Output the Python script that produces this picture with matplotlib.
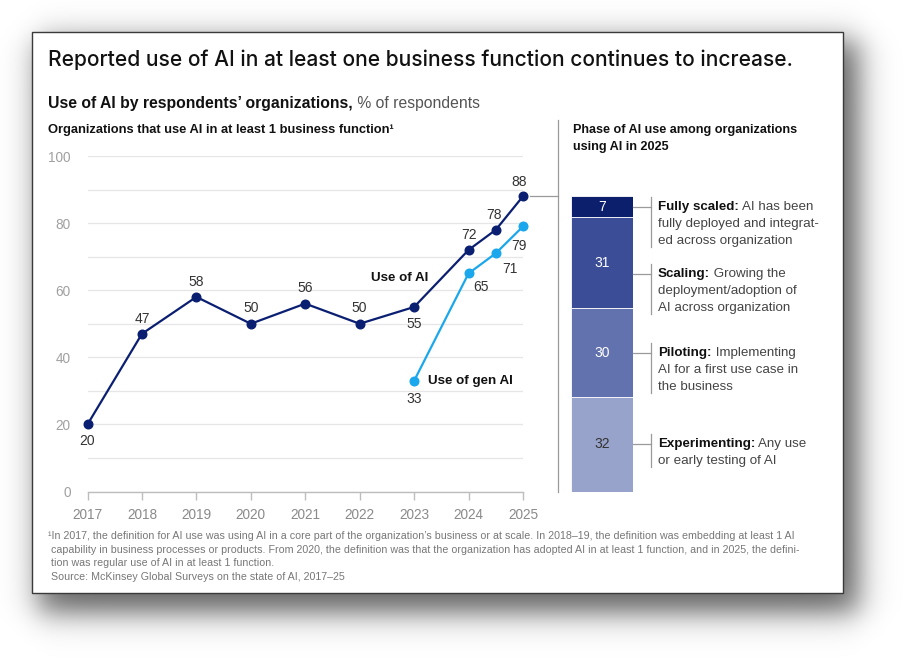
import numpy as np
import matplotlib
matplotlib.use("Agg")
import matplotlib.pyplot as plt
from matplotlib.patches import Rectangle
from matplotlib.lines import Line2D
from matplotlib.transforms import blended_transform_factory

# ---------------- data ----------------
years_ai = [2017, 2018, 2019, 2020, 2021, 2022, 2023, 2024, 2024.5, 2025]
use_ai = [20, 47, 58, 50, 56, 50, 55, 72, 78, 88]
years_gen = [2023, 2024, 2024.5, 2025]
use_gen = [33, 65, 71, 79]
tick_years = [2017, 2018, 2019, 2020, 2021, 2022, 2023, 2024, 2025]
y_ticks = [0, 20, 40, 60, 80, 100]

phases = ["Experimenting", "Piloting", "Scaling", "Fully scaled"]
phase_vals = [32, 30, 31, 7]
phase_desc = [
    ["Any use", "or early testing of AI"],
    ["Implementing", "AI for a first use case in", "the business"],
    ["Growing the", "deployment/adoption of", "AI across organization"],
    ["AI has been", "fully deployed and integrat-", "ed across organization"],
]

title = "Reported use of AI in at least one business function continues to increase."
footnote = [
    "\u00b9In 2017, the definition for AI use was using AI in a core part of the organization\u2019s business or at scale. In 2018\u201319, the definition was embedding at least 1 AI",
    " capability in business processes or products. From 2020, the definition was that the organization has adopted AI in at least 1 function, and in 2025, the defini-",
    " tion was regular use of AI in at least 1 function.",
    " Source: McKinsey Global Surveys on the state of AI, 2017\u201325",
]

# ---------------- style ----------------
FONT = "Liberation Sans"
plt.rcParams["font.family"] = [FONT, "DejaVu Sans"]
NAVY = "#0b1f72"
LIGHT = "#1aa7ec"
seg_colors = ["#98a3cb", "#6272ae", "#3b4d96", "#0b1f6c"]
seg_text = ["#333333", "white", "white", "white"]

W, H = 909, 659
fig = plt.figure(figsize=(W / 100, H / 100), dpi=100)


def fx(px):
    return px / W


def fy(py):
    return 1 - py / H


# ---------------- shadow + card ----------------
ax_bg = fig.add_axes([0, 0, 1, 1])
ax_bg.set_axis_off()
yy, xx = np.mgrid[0:H, 0:W].astype(float)


def sig(v):
    return 1.0 / (1.0 + np.exp(-v))


s = 9.0
alpha = (sig((xx - 38) / s) * sig((858 - xx) / s) *
         sig((yy - 40) / s) * sig((612 - yy) / s)) * 0.62
img = np.zeros((H, W, 4))
img[..., 3] = alpha
ax_bg.imshow(img, extent=[0, 1, 0, 1], origin="upper", aspect="auto",
             interpolation="bilinear")
ax_bg.set_xlim(0, 1)
ax_bg.set_ylim(0, 1)
ax_bg.add_patch(Rectangle((fx(32), fy(593)), fx(843 - 32), (593 - 32) / H,
                          transform=fig.transFigure, facecolor="white",
                          edgecolor="#3a3a3a", lw=1.0, zorder=2))

renderer = fig.canvas.get_renderer()


def rich(x_px, y_px, parts, size, va="baseline"):
    x = fx(x_px)
    for txt, weight, color in parts:
        t = fig.text(x, fy(y_px), txt, fontsize=size, fontweight=weight,
                     color=color, va=va, ha="left")
        bb = t.get_window_extent(renderer=renderer)
        x = bb.x1 / W
    return x


# ---------------- headings ----------------
fig.text(fx(48), fy(66), title, fontsize=15.1, color="#111111", va="baseline",
         family=["Inter", "Liberation Sans", "DejaVu Sans"], fontweight=500)
rich(48, 108, [("Use of AI by respondents\u2019 organizations,", "bold", "#111111"),
               (" % of respondents", "normal", "#555555")], 11.3)
fig.text(fx(48), fy(133), "Organizations that use AI in at least 1 business function\u00b9",
         fontsize=9.3, fontweight="bold", color="#111111", va="baseline")
fig.text(fx(573), fy(133), "Phase of AI use among organizations", fontsize=9.1,
         fontweight="bold", color="#111111", va="baseline")
fig.text(fx(573), fy(150), "using AI in 2025", fontsize=9.1,
         fontweight="bold", color="#111111", va="baseline")

# ---------------- line chart ----------------
L, R, T, B = 87.5, 523, 156, 491.5
ax = fig.add_axes([fx(L), fy(B), fx(R) - fx(L), (B - T) / H])
ax.set_xlim(2017, 2025)
ax.set_ylim(0, 100)
ax.patch.set_alpha(0)
for sp in ["top", "right", "left"]:
    ax.spines[sp].set_visible(False)
ax.spines["bottom"].set_color("#bdbdbd")
ax.spines["bottom"].set_linewidth(1.0)
ax.set_yticks(y_ticks)
ax.set_yticks([v for v in range(10, 100, 20)], minor=True)
ax.grid(axis="y", which="both", color="#e6e6e6", lw=0.9)
ax.set_axisbelow(True)
ax.tick_params(axis="y", which="both", length=0, pad=12, labelsize=9.8,
               labelcolor="#a0a0a0")
ax.set_xticks(tick_years)
ax.set_xticklabels([str(y) for y in tick_years])
ax.tick_params(axis="x", length=6, width=1.0, color="#bdbdbd", pad=6,
               labelsize=9.8, labelcolor="#8a8a8a")

ax.plot(years_ai, use_ai, color=NAVY, lw=1.6, marker="o", ms=6.2,
        clip_on=False, zorder=4)
ax.plot(years_gen, use_gen, color=LIGHT, lw=1.6, marker="o", ms=6.2,
        clip_on=False, zorder=4)

ai_off = [(0, -12), (0, 11), (0, 11), (0, 11), (0, 11), (0, 11), (0, -12),
          (0, 11), (-1, 11), (-3, 10)]
for xv, yv, (dx, dy) in zip(years_ai, use_ai, ai_off):
    ax.annotate(str(yv), (xv, yv), xytext=(dx, dy), textcoords="offset points",
                ha="center", va="center", fontsize=10, color="#333333")
gen_off = [(0, -13), (9, -10), (10, -11.5), (-3, -14)]
for xv, yv, (dx, dy) in zip(years_gen, use_gen, gen_off):
    ax.annotate(str(yv), (xv, yv), xytext=(dx, dy), textcoords="offset points",
                ha="center", va="center", fontsize=10, color="#333333")

ax.annotate("Use of AI", (years_ai[6], use_ai[6]), xytext=(10, 21),
            textcoords="offset points", ha="right", va="center",
            fontsize=9.6, fontweight="bold", color="#111111")
ax.annotate("Use of gen AI", (years_gen[0], use_gen[0]), xytext=(10, 0),
            textcoords="offset points", ha="left", va="center",
            fontsize=9.6, fontweight="bold", color="#111111")

# ---------------- stacked bar ----------------
BL, BR = 571, 633
axb = fig.add_axes([fx(BL), fy(B), fx(BR) - fx(BL), (B - T) / H])
axb.set_xlim(0, 1)
axb.set_ylim(0, 100)
axb.set_axis_off()
total = use_ai[-1]
bottom = 0.0
mids = []
for val, col, tc in zip(phase_vals, seg_colors, seg_text):
    h = val * total / 100.0
    axb.bar(0.5, h, width=1.0, bottom=bottom, color=col, edgecolor="white",
            linewidth=0.6)
    axb.text(0.5, bottom + h / 2, str(val), ha="center", va="center",
             fontsize=10, color=tc)
    mids.append(bottom + h / 2)
    bottom += h

# connector from last point + divider
trans_b = blended_transform_factory(fig.transFigure, axb.transData)
fig.add_artist(Line2D([fx(530), fx(558)], [total, total], transform=trans_b,
                      color="#9a9a9a", lw=0.9))
fig.add_artist(Line2D([fx(558), fx(558)], [fy(492), fy(120)],
                      transform=fig.transFigure, color="#9a9a9a", lw=0.9))

# phase labels
px_per_unit = (B - T) / 100.0
shift = [0, 0, -3.5, 0]  # scaling label pushed down (units)
for i in range(4):
    ly = mids[i] + shift[i]
    fig.add_artist(Line2D([fx(BR), fx(651)], [ly, ly], transform=trans_b,
                          color="#9a9a9a", lw=0.9))
    n = len(phase_desc[i])
    top_y = ly + 10 / px_per_unit
    bot_y = ly - (17 * (n - 1) + 6) / px_per_unit
    fig.add_artist(Line2D([fx(651), fx(651)], [bot_y, top_y], transform=trans_b,
                          color="#9a9a9a", lw=0.9))
    x0 = fx(658)
    t1 = fig.text(x0, ly, phases[i] + ":", transform=trans_b, fontsize=9.6,
                  fontweight="bold", color="#111111", va="center")
    bb = t1.get_window_extent(renderer=renderer)
    fig.text(bb.x1 / W, ly, " " + phase_desc[i][0], transform=trans_b,
             fontsize=9.6, color="#444444", va="center")
    for k in range(1, n):
        fig.text(x0, ly - 17 * k / px_per_unit, phase_desc[i][k],
                 transform=trans_b, fontsize=9.6, color="#444444", va="center")

# ---------------- footnote ----------------
for k, line in enumerate(footnote):
    fig.text(fx(48), fy(539 + 13.6 * k), line, fontsize=7.65, color="#777777",
             va="baseline")

fig.savefig("out.png", dpi=100)
